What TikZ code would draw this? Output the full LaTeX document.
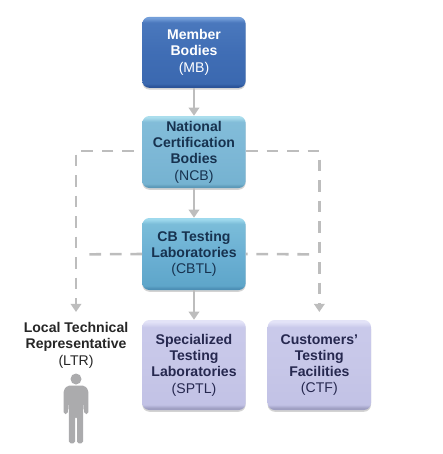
\documentclass[tikz,border=0pt]{standalone}
\usepackage{xcolor}
\usepackage{fontspec}
\setmainfont{Liberation Sans}
\usepackage{tikz}
\usetikzlibrary{arrows.meta, positioning, shadows, calc}

\definecolor{lineGray}{HTML}{BDBDBD}
\definecolor{manGray}{HTML}{ABABAD}
\definecolor{ncbText}{HTML}{17324F}
\definecolor{labText}{HTML}{26284F}

\pgfdeclareverticalshading{mbShade}{100bp}{rgb(0bp)=(0.17,0.33,0.60);rgb(26bp)=(0.17,0.33,0.60);rgb(28bp)=(0.23,0.41,0.69);rgb(50bp)=(0.25,0.43,0.71);rgb(71bp)=(0.29,0.47,0.74);rgb(74bp)=(0.45,0.62,0.85);rgb(100bp)=(0.45,0.62,0.85)}
\pgfdeclareverticalshading{ncbShade}{100bp}{rgb(0bp)=(0.36,0.60,0.72);rgb(26bp)=(0.36,0.60,0.72);rgb(28bp)=(0.46,0.70,0.82);rgb(50bp)=(0.49,0.72,0.84);rgb(71bp)=(0.51,0.74,0.85);rgb(74bp)=(0.67,0.87,0.93);rgb(100bp)=(0.67,0.87,0.93)}
\pgfdeclareverticalshading{cbtlShade}{100bp}{rgb(0bp)=(0.30,0.56,0.71);rgb(26bp)=(0.30,0.56,0.71);rgb(28bp)=(0.37,0.65,0.79);rgb(50bp)=(0.42,0.69,0.83);rgb(71bp)=(0.48,0.74,0.85);rgb(74bp)=(0.62,0.85,0.93);rgb(100bp)=(0.62,0.85,0.93)}
\pgfdeclareverticalshading{labShade}{100bp}{rgb(0bp)=(0.62,0.62,0.76);rgb(26bp)=(0.62,0.62,0.76);rgb(28bp)=(0.76,0.76,0.90);rgb(50bp)=(0.78,0.78,0.91);rgb(71bp)=(0.79,0.79,0.92);rgb(74bp)=(0.89,0.89,0.97);rgb(100bp)=(0.89,0.89,0.97)}

\tikzset{
    orgbox/.style={rounded corners=6pt, minimum width=3.1cm, align=center, inner sep=0pt, font=\fontsize{12}{13.9}\selectfont,
        drop shadow={shadow xshift=0pt, shadow yshift=-1.5pt, opacity=0.35}},
    mbbox/.style={orgbox, shading=mbShade, text=white, minimum height=2.13cm},
    ncbbox/.style={orgbox, shading=ncbShade, text=ncbText, minimum height=2.16cm},
    cbtlbox/.style={orgbox, shading=cbtlShade, text=ncbText, minimum height=2.16cm},
    labbox/.style={orgbox, shading=labShade, text=labText, minimum height=2.7cm},
    flowline/.style={draw=lineGray, line width=2.3pt, -{Triangle[width=9pt, length=7pt]}},
    dashline/.style={draw=lineGray, line width=2.2pt, dash pattern=on 10pt off 7.5pt},
    dasharrow/.style={dashline, -{Triangle[width=9pt, length=7pt]}}
}

\begin{document}
\begin{tikzpicture}
    \useasboundingbox (0,0) rectangle (13.29,-13.62);

    \coordinate (ltrtip) at (2.28,-9.36);
    \coordinate (ctftip) at (9.58,-9.36);
    \coordinate (cbtlleft) at (2.64,-7.63);
    \coordinate (cbtlright) at (9.3,-7.63);

    \draw[dasharrow, dash phase=10pt] (4.28,-4.53) coordinate (ncbleft) -| (ltrtip);
    \draw[dasharrow] (7.38,-4.53) coordinate (ncbright) -| (ctftip);

    \node[mbbox] (mb) at (5.82,-1.57) {\textbf{Member}\\\textbf{Bodies}\\(MB)};
    \node[ncbbox] (ncb) at (5.82,-4.56) {\textbf{National}\\\textbf{Certification}\\\textbf{Bodies}\\(NCB)};
    \node[cbtlbox] (cbtl) at (5.82,-7.62) {\textbf{CB Testing}\\\textbf{Laboratories}\\(CBTL)};
    \node[labbox] (sptl) at (5.82,-10.95) {\textbf{Specialized}\\\textbf{Testing}\\\textbf{Laboratories}\\(SPTL)};
    \node[labbox] (ctf) at (9.58,-10.95) {\textbf{Customers'}\\\textbf{Testing}\\\textbf{Facilities}\\(CTF)};
    \node[align=center, inner sep=0pt, text=black!85, font=\fontsize{12}{13.9}\selectfont] (ltr) at (2.28,-10.36) {\textbf{Local Technical}\\\textbf{Representative}\\(LTR)};

    \draw[flowline] (mb) -- (ncb);
    \draw[flowline] (ncb) -- (cbtl);
    \draw[flowline] (cbtl) -- (sptl);
    \draw[dashline] (cbtl.west) -- (cbtlleft);
    \draw[dashline, dash phase=8.5pt] (cbtl.east) -- (cbtlright);

    % man below the LTR label
    \fill[manGray] (2.28,-11.37) circle (0.165);
    \fill[manGray, rounded corners=1.5pt] (2.02,-11.57) -- (2.54,-11.57) -- (2.65,-11.7) -- (2.65,-12.42)
        -- (2.53,-12.42) -- (2.5,-11.95) -- (2.49,-13.3) -- (2.31,-13.3) -- (2.31,-12.5) -- (2.25,-12.5)
        -- (2.25,-13.3) -- (2.07,-13.3) -- (2.06,-11.95) -- (2.03,-12.42) -- (1.91,-12.42) -- (1.91,-11.7) -- cycle;
\end{tikzpicture}
\end{document}
